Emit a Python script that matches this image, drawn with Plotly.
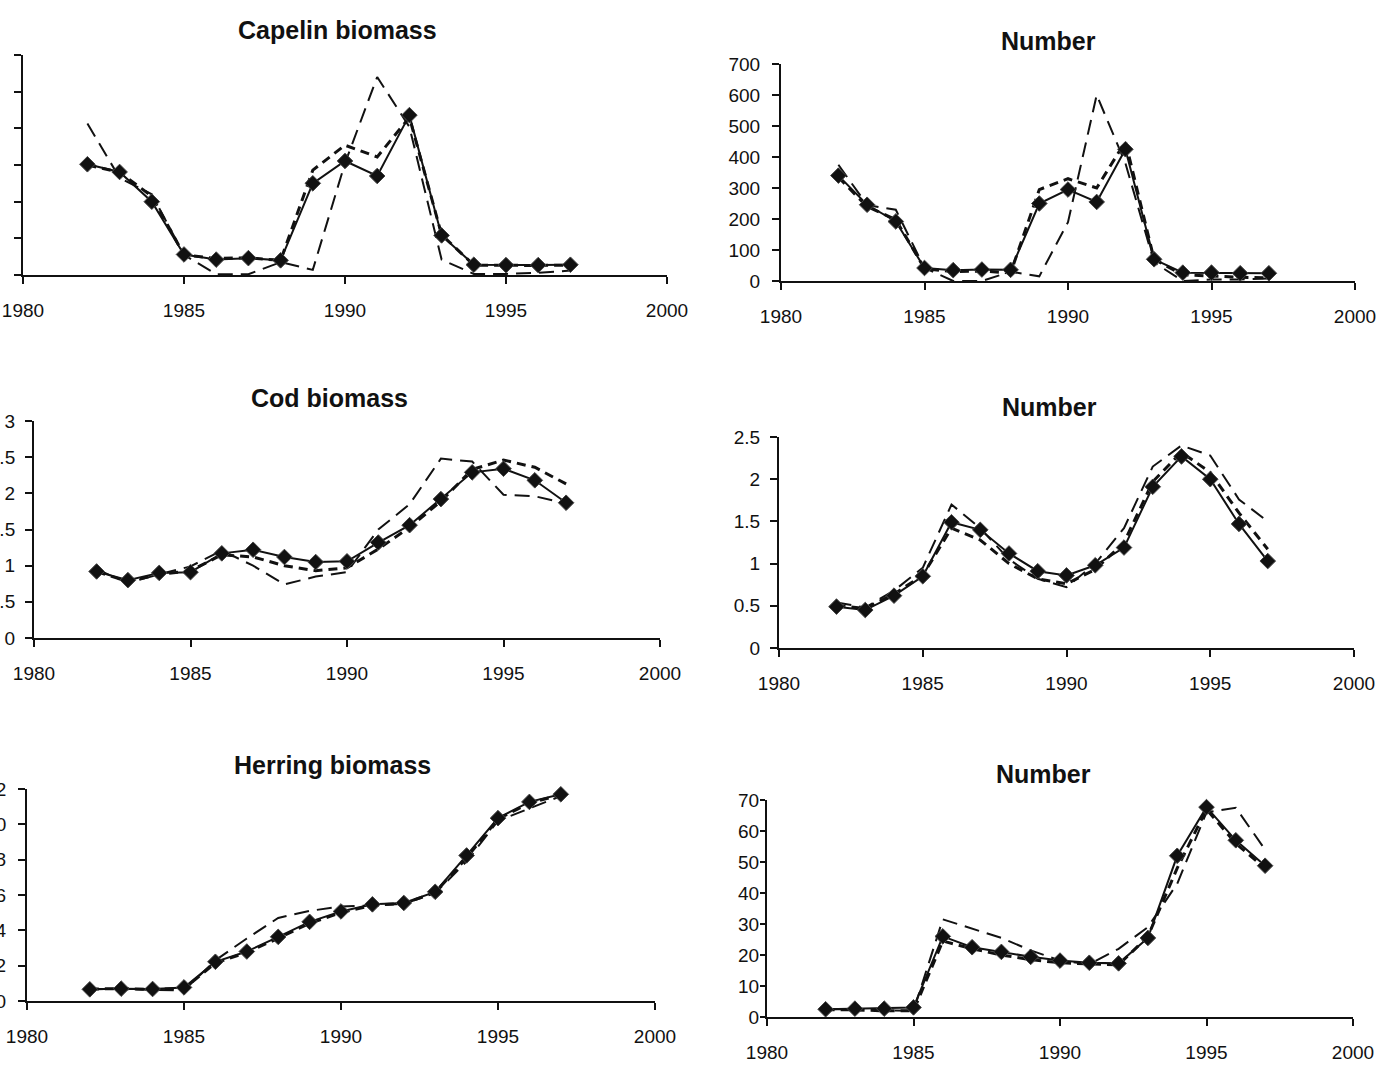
import plotly.graph_objects as go

W, H = 1383, 1079

years = list(range(1982, 1998))

# Capelin: biomass and number (three estimates each)
capelin_bio_obs = [3.02, 2.81, 2.00, 0.56, 0.42, 0.46, 0.40, 2.50, 3.11, 2.70, 4.36, 1.08, 0.28, 0.27, 0.27, 0.28]
capelin_bio_est1 = [4.13, 2.65, 2.20, 0.55, 0.02, 0.02, 0.35, 0.14, 3.05, 5.40, 4.04, 0.42, 0.03, 0.03, 0.06, 0.12]
capelin_bio_est2 = [3.00, 2.80, 2.15, 0.55, 0.45, 0.47, 0.40, 2.86, 3.54, 3.22, 4.30, 1.10, 0.27, 0.26, 0.26, 0.27]

capelin_num_obs = [340, 246, 192, 42, 35, 37, 36, 250, 295, 255, 425, 70, 27, 27, 25, 25]
capelin_num_est1 = [375, 245, 230, 42, 0, 0, 30, 15, 190, 600, 380, 60, 0, 5, 5, 8]
capelin_num_est2 = [335, 240, 198, 40, 30, 32, 26, 295, 330, 300, 450, 70, 20, 15, 12, 10]

# Cod: biomass and number
cod_bio_obs = [0.92, 0.80, 0.90, 0.91, 1.17, 1.22, 1.12, 1.05, 1.06, 1.32, 1.56, 1.92, 2.29, 2.34, 2.18, 1.87]
cod_bio_est1 = [0.95, 0.76, 0.88, 0.99, 1.21, 1.00, 0.74, 0.85, 0.91, 1.50, 1.85, 2.48, 2.44, 1.98, 1.96, 1.86]
cod_bio_est2 = [0.92, 0.78, 0.88, 0.93, 1.15, 1.12, 1.00, 0.93, 0.97, 1.23, 1.53, 1.89, 2.33, 2.46, 2.36, 2.13]

cod_num_obs = [0.49, 0.45, 0.62, 0.85, 1.49, 1.40, 1.12, 0.91, 0.86, 0.98, 1.19, 1.91, 2.27, 2.00, 1.47, 1.03]
cod_num_est1 = [0.54, 0.48, 0.68, 0.95, 1.70, 1.42, 1.05, 0.82, 0.72, 1.00, 1.42, 2.15, 2.40, 2.28, 1.76, 1.50]
cod_num_est2 = [0.50, 0.47, 0.64, 0.86, 1.42, 1.28, 1.00, 0.82, 0.76, 0.93, 1.25, 1.97, 2.32, 2.08, 1.60, 1.17]

# Herring: biomass and number
herring_bio_obs = [0.66, 0.70, 0.68, 0.77, 2.22, 2.80, 3.63, 4.48, 5.07, 5.47, 5.55, 6.18, 8.24, 10.35, 11.27, 11.70]
herring_bio_est1 = [0.66, 0.70, 0.62, 0.60, 2.30, 3.54, 4.70, 5.10, 5.35, 5.40, 5.50, 6.10, 7.90, 10.20, 10.90, 11.60]
herring_bio_est2 = [0.68, 0.70, 0.66, 0.70, 2.15, 2.75, 3.55, 4.40, 5.00, 5.42, 5.52, 6.15, 8.10, 10.30, 11.20, 11.68]

herring_num_obs = [2.5, 2.7, 2.7, 3.1, 26.0, 22.5, 21.0, 19.4, 18.2, 17.5, 17.3, 25.5, 52.0, 67.7, 57.0, 48.8]
herring_num_est1 = [2.5, 2.5, 2.2, 2.0, 31.5, 28.5, 25.5, 21.5, 18.2, 17.0, 22.0, 29.0, 43.0, 66.0, 67.5, 54.0]
herring_num_est2 = [2.3, 2.3, 2.0, 2.0, 24.5, 22.0, 20.0, 18.5, 17.5, 17.2, 16.8, 26.0, 48.0, 67.0, 56.0, 48.0]

x_ticks = [1980, 1985, 1990, 1995, 2000]

FONT = "Liberation Sans, Arial, Helvetica, sans-serif"
INK = "#111111"

# title, (obs, est1, est2), pixel box (left, right, top, bottom), y max, y step,
# show y labels, y tick length, y label standoff, title position (px)
panels = [
    ("Capelin biomass", (capelin_bio_obs, capelin_bio_est1, capelin_bio_est2),
     (23, 667, 55, 275), 6, 1, False, 7, 8, (337, 30)),
    ("Number", (capelin_num_obs, capelin_num_est1, capelin_num_est2),
     (781, 1355, 64, 281), 700, 100, True, 7, 8, (1048, 41)),
    ("Cod biomass", (cod_bio_obs, cod_bio_est1, cod_bio_est2),
     (34, 660, 421, 638), 3, 0.5, True, 7, 6, (329, 398)),
    ("Number", (cod_num_obs, cod_num_est1, cod_num_est2),
     (779, 1354, 437, 648), 2.5, 0.5, True, 7, 6, (1049, 407)),
    ("Herring biomass", (herring_bio_obs, herring_bio_est1, herring_bio_est2),
     (27, 655, 789, 1001), 12, 2, True, 7, 8, (332, 765)),
    ("Number", (herring_num_obs, herring_num_est1, herring_num_est2),
     (767, 1353, 800, 1017), 70, 10, True, 5, -3, (1043, 774)),
]

fig = go.Figure()
layout = dict(
    template="none",
    width=W, height=H, autosize=False,
    margin=dict(l=0, r=0, t=0, b=0, pad=0, autoexpand=False),
    paper_bgcolor="white", plot_bgcolor="rgba(0,0,0,0)",
    showlegend=False,
    font=dict(family=FONT, color=INK, size=19),
    annotations=[],
)

for i, (title, (obs, est1, est2), box, ymax, ystep, ylab, yticklen, standoff, tpos) in enumerate(panels):
    n = i + 1
    xa = "x" if n == 1 else f"x{n}"
    ya = "y" if n == 1 else f"y{n}"
    left, right, top, bottom = box

    # long-dashed estimate
    fig.add_trace(go.Scatter(x=years, y=est1, xaxis=xa, yaxis=ya, mode="lines",
                             line=dict(color=INK, width=2, dash="15px,8px"),
                             hoverinfo="skip", cliponaxis=False))
    # short-dashed estimate
    fig.add_trace(go.Scatter(x=years, y=est2, xaxis=xa, yaxis=ya, mode="lines",
                             line=dict(color=INK, width=3, dash="9px,6px"),
                             hoverinfo="skip", cliponaxis=False))
    # solid series with diamond markers
    fig.add_trace(go.Scatter(x=years, y=obs, xaxis=xa, yaxis=ya, mode="lines+markers",
                             line=dict(color=INK, width=2),
                             marker=dict(symbol="diamond", size=12, color=INK,
                                         line=dict(color="#444444", width=1)),
                             cliponaxis=False))

    layout[f"xaxis{'' if n == 1 else n}"] = dict(
        domain=[left / W, right / W], range=[1980, 2000], anchor=ya,
        automargin=False,
        tickmode="array", tickvals=x_ticks, ticktext=[str(t) for t in x_ticks],
        ticks="outside", ticklen=7, tickwidth=2, tickcolor=INK,
        showline=True, linecolor=INK, linewidth=2,
        showgrid=False, zeroline=False, ticklabelstandoff=10,
        tickfont=dict(size=19, family=FONT, color=INK),
    )
    layout[f"yaxis{'' if n == 1 else n}"] = dict(
        domain=[1 - bottom / H, 1 - top / H], range=[0, ymax], anchor=xa,
        automargin=False,
        tick0=0, dtick=ystep, ticks="outside", ticklen=yticklen, tickwidth=2,
        tickcolor=INK, showline=True, linecolor=INK, linewidth=2,
        showgrid=False, zeroline=False, showticklabels=ylab,
        ticklabelstandoff=standoff,
        tickfont=dict(size=19, family=FONT, color=INK),
    )
    layout["annotations"].append(dict(
        text=f"<b>{title}</b>", x=tpos[0] / W, y=1 - tpos[1] / H,
        xref="paper", yref="paper", xanchor="center", yanchor="middle",
        showarrow=False, font=dict(size=25, family=FONT, color=INK),
    ))

fig.update_layout(**layout)
fig.write_html("out.html")
